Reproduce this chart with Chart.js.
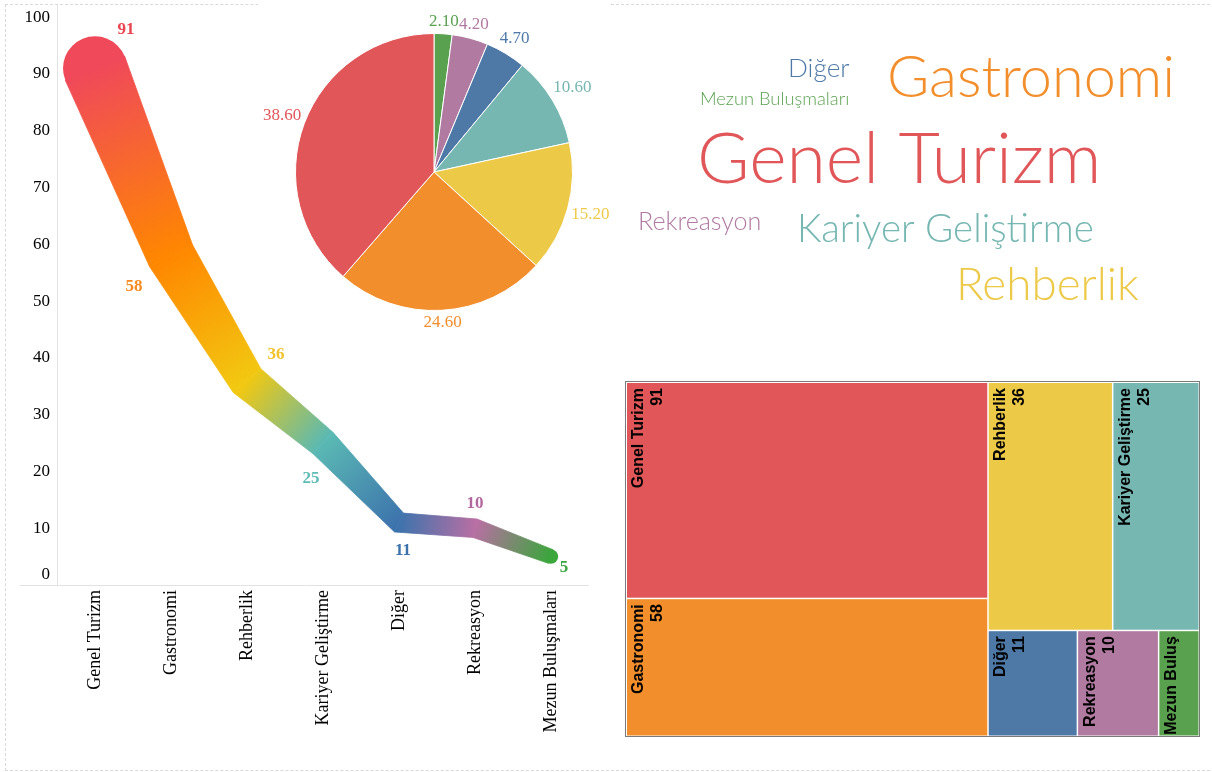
<!DOCTYPE html>
<html>
<head>
<meta charset="utf-8">
<script src="https://cdn.jsdelivr.net/npm/chart.js@4.4.1/dist/chart.umd.min.js"></script>
<style>
	html, body { margin: 0; padding: 0; background: #fff; }
	body { width: 1212px; height: 772px; position: relative; overflow: hidden; }
	.frame { position: absolute; left: 5px; top: 4px; width: 1230px; height: 767px; border: 1px dashed #d9d9d9; box-sizing: border-box; }
	.mask { position: absolute; left: 258px; top: 0; width: 352px; height: 10px; background: #fff; }
	.box { position: absolute; }
	#lineBox { left: 0; top: 0; width: 610px; height: 772px; }
	#pieBox { left: 258px; top: 0; width: 357px; height: 340px; }
	#cloudBox { left: 610px; top: 0; width: 602px; height: 340px; }
	#treeBox { left: 620px; top: 375px; width: 592px; height: 370px; }
</style>
</head>
<body>
<div class="frame"></div>
<div class="mask"></div>
<div class="box" id="lineBox"><canvas id="lineChart"></canvas></div>
<div class="box" id="pieBox"><canvas id="pieChart"></canvas></div>
<div class="box" id="cloudBox"><canvas id="cloudChart"></canvas></div>
<div class="box" id="treeBox"><canvas id="treeChart"></canvas></div>
<script>
// data
const categories = ["Genel Turizm", "Gastronomi", "Rehberlik", "Kariyer Geliştirme", "Diğer", "Rekreasyon", "Mezun Buluşmaları"];
const counts = [91, 58, 36, 25, 11, 10, 5];
const pieShares = [38.6, 24.6, 15.2, 10.6, 4.7, 4.2, 2.1];
const yMax = 100;
const yStep = 10;

// colours
const tabColors = ["#E15759", "#F28E2B", "#EDC948", "#76B7B2", "#4E79A7", "#B07AA1", "#59A14F"];
const lineColors = ["#F0495A", "#FF8700", "#F2C811", "#5AB9B3", "#3D73AD", "#B86FA3", "#3AA63B"];
const lineLabelColors = ["#EA4450", "#F5891E", "#F2C22A", "#5FBBB5", "#3C72AC", "#B2689E", "#3BA53E"];

const serif = '"Liberation Serif", "Times New Roman", serif';

// ---------- tapered gradient line ----------
function lineWidthFor(v) {
	return 8 + 1.9 * Math.pow(v, 0.75);
}
const lineLabelOffsets = [[31, -39], [-37, 31], [29, -26], [-12, 36], [4, 28], [0, -25], [13, 11]];

const taperLine = {
	id: "taperLine",
	beforeDatasetsDraw(chart) {
		const ctx = chart.ctx;
		const a = chart.chartArea;
		ctx.save();
		ctx.strokeStyle = "#e2e2e2";
		ctx.lineWidth = 1;
		ctx.beginPath();
		ctx.moveTo(20, a.bottom + 0.5);
		ctx.lineTo(a.right, a.bottom + 0.5);
		ctx.moveTo(a.left + 0.5, 5);
		ctx.lineTo(a.left + 0.5, a.bottom);
		ctx.stroke();
		// the zero label sits just above the axis line, as in the original
		const ys = chart.scales.y;
		ctx.font = "17px " + serif;
		ctx.fillStyle = "#000";
		ctx.textAlign = "right";
		ctx.textBaseline = "middle";
		ctx.fillText("0", ys.right - 7, ys.getPixelForValue(0) - 10);
		ctx.restore();
	},
	afterDatasetsDraw(chart) {
		const ctx = chart.ctx;
		const pts = chart.getDatasetMeta(0).data.map((p) => ({ x: p.x, y: p.y }));
		const w = counts.map(lineWidthFor);
		const n = pts.length;
		const normals = [];
		for (let i = 0; i < n - 1; i++) {
			const dx = pts[i + 1].x - pts[i].x;
			const dy = pts[i + 1].y - pts[i].y;
			const len = Math.hypot(dx, dy);
			normals.push({ x: -dy / len, y: dx / len });
		}
		const offs = pts.map((p, i) => {
			let nx, ny, k = 1;
			if (i === 0) {
				nx = normals[0].x; ny = normals[0].y;
			} else if (i === n - 1) {
				nx = normals[n - 2].x; ny = normals[n - 2].y;
			} else {
				nx = normals[i - 1].x + normals[i].x;
				ny = normals[i - 1].y + normals[i].y;
				const l = Math.hypot(nx, ny);
				nx /= l; ny /= l;
				k = 1 / (nx * normals[i].x + ny * normals[i].y);
			}
			return { x: (nx * k * w[i]) / 2, y: (ny * k * w[i]) / 2 };
		});

		ctx.save();
		// round ends first so the band sits on top of them
		[0, n - 1].forEach((i) => {
			ctx.fillStyle = lineColors[i];
			ctx.beginPath();
			ctx.arc(pts[i].x, pts[i].y, w[i] / 2, 0, Math.PI * 2);
			ctx.fill();
		});
		for (let i = 0; i < n - 1; i++) {
			const a = pts[i], b = pts[i + 1];
			const g = ctx.createLinearGradient(a.x, a.y, b.x, b.y);
			g.addColorStop(0, lineColors[i]);
			g.addColorStop(1, lineColors[i + 1]);
			ctx.fillStyle = g;
			ctx.strokeStyle = g;
			ctx.lineWidth = 0.8;
			ctx.lineJoin = "round";
			ctx.beginPath();
			ctx.moveTo(a.x + offs[i].x, a.y + offs[i].y);
			ctx.lineTo(b.x + offs[i + 1].x, b.y + offs[i + 1].y);
			ctx.lineTo(b.x - offs[i + 1].x, b.y - offs[i + 1].y);
			ctx.lineTo(a.x - offs[i].x, a.y - offs[i].y);
			ctx.closePath();
			ctx.fill();
			ctx.stroke();
		}
		// value labels
		ctx.font = "bold 17px " + serif;
		ctx.textAlign = "center";
		ctx.textBaseline = "middle";
		pts.forEach((p, i) => {
			ctx.fillStyle = lineLabelColors[i];
			ctx.fillText(String(counts[i]), p.x + lineLabelOffsets[i][0], p.y + lineLabelOffsets[i][1]);
		});
		ctx.restore();
	},
};

new Chart(document.getElementById("lineChart"), {
	type: "line",
	data: {
		labels: categories,
		datasets: [
			{
				data: counts,
				borderWidth: 0,
				borderColor: "rgba(0,0,0,0)",
				pointRadius: 0,
				fill: false,
			},
		],
	},
	options: {
		responsive: true,
		maintainAspectRatio: false,
		animation: false,
		layout: { padding: { top: 13, right: 21, left: 0, bottom: 0 } },
		plugins: {
			legend: { display: false },
			tooltip: { enabled: false },
		},
		scales: {
			x: {
				offset: true,
				grid: { display: false, drawTicks: false },
				border: { display: false },
				ticks: {
					minRotation: 90,
					maxRotation: 90,
					autoSkip: false,
					padding: 5,
					color: "#000",
					font: { family: serif, size: 18 },
				},
				afterFit: (s) => { s.height = 187; },
			},
			y: {
				min: 0,
				max: yMax,
				grid: { display: false, drawTicks: false },
				border: { display: false },
				ticks: {
					stepSize: yStep,
					padding: 7,
					color: (c) => (c.tick && c.tick.value === 0 ? "rgba(0,0,0,0)" : "#000"),
					font: { family: serif, size: 17 },
				},
				afterFit: (s) => { s.width = 57; },
			},
		},
	},
	plugins: [taperLine],
});

// ---------- pie ----------
const pieOrder = categories.map((c, i) => i).reverse();

const pieLabels = {
	id: "pieLabels",
	afterDatasetsDraw(chart) {
		const ctx = chart.ctx;
		const ds = chart.data.datasets[0];
		ctx.save();
		ctx.font = "17px " + serif;
		ctx.textAlign = "center";
		ctx.textBaseline = "middle";
		chart.getDatasetMeta(0).data.forEach((arc, i) => {
			const mid = (arc.startAngle + arc.endAngle) / 2;
			const cx = Math.cos(mid), cy = Math.sin(mid);
			const txt = ds.data[i].toFixed(2);
			const tw = ctx.measureText(txt).width;
			const ext = (Math.abs(cx) * tw) / 2 + Math.abs(cy) * 8;
			const r = arc.outerRadius + 3 + ext;
			ctx.fillStyle = ds.backgroundColor[i];
			ctx.fillText(txt, arc.x + cx * r, arc.y + cy * r);
		});
		ctx.restore();
	},
};

new Chart(document.getElementById("pieChart"), {
	type: "pie",
	data: {
		labels: pieOrder.map((i) => categories[i]),
		datasets: [
			{
				data: pieOrder.map((i) => pieShares[i]),
				backgroundColor: pieOrder.map((i) => tabColors[i]),
				borderColor: "#fff",
				borderWidth: 1,
			},
		],
	},
	options: {
		responsive: true,
		maintainAspectRatio: false,
		animation: false,
		layout: { padding: { left: 36, right: 41, top: 33, bottom: 29 } },
		plugins: {
			legend: { display: false },
			tooltip: { enabled: false },
		},
	},
	plugins: [pieLabels],
});

// ---------- word cloud ----------
const cloudLayout = [[87, 183], [277, 97], [346, 300], [187, 242], [178, 77], [28, 230], [90, 105]];

function wordSize(v) {
	return 7.3 * Math.sqrt(v) + 2;
}

const wordCloud = {
	id: "wordCloud",
	afterDatasetsDraw(chart) {
		const ctx = chart.ctx;
		ctx.save();
		ctx.textAlign = "left";
		ctx.textBaseline = "alphabetic";
		chart.getDatasetMeta(0).data.forEach((p, i) => {
			ctx.font = "300 " + wordSize(counts[i]).toFixed(1) + 'px Lato, "Noto Sans", sans-serif';
			ctx.fillStyle = tabColors[i];
			ctx.fillText(categories[i], p.x, p.y);
		});
		ctx.restore();
	},
};

new Chart(document.getElementById("cloudChart"), {
	type: "scatter",
	data: {
		datasets: [
			{
				data: cloudLayout.map((c) => ({ x: c[0], y: c[1] })),
				pointRadius: 0,
			},
		],
	},
	options: {
		responsive: true,
		maintainAspectRatio: false,
		animation: false,
		layout: { padding: 0 },
		plugins: {
			legend: { display: false },
			tooltip: { enabled: false },
		},
		scales: {
			x: { type: "linear", min: 0, max: 602, display: false },
			y: { type: "linear", min: 0, max: 340, reverse: true, display: false },
		},
	},
	plugins: [wordCloud],
});

// ---------- treemap ----------
const treemapGroups = [[0, 1], [2, 3], [4, 5, 6]];

function sumOf(idx) {
	return idx.reduce((s, i) => s + counts[i], 0);
}

const treemap = {
	id: "treemap",
	afterDatasetsDraw(chart) {
		const xs = chart.scales.x;
		const ys = chart.scales.y;
		const total = counts.reduce((s, v) => s + v, 0);
		const cells = [];
		const first = treemapGroups[0];
		const firstSum = sumOf(first);
		const colW = firstSum / total;
		let cy = 0;
		first.forEach((i) => {
			const h = counts[i] / firstSum;
			cells.push({ i: i, x0: 0, x1: colW, y0: cy, y1: cy + h });
			cy += h;
		});
		const rest = treemapGroups.slice(1);
		const restSum = total - firstSum;
		let ry = 0;
		rest.forEach((g) => {
			const gs = sumOf(g);
			const gh = gs / restSum;
			let rx = colW;
			g.forEach((i) => {
				const wv = (counts[i] / gs) * (1 - colW);
				cells.push({ i: i, x0: rx, x1: rx + wv, y0: ry, y1: ry + gh });
				rx += wv;
			});
			ry += gh;
		});

		const ctx = chart.ctx;
		ctx.save();
		ctx.font = 'bold 16px "Liberation Sans", Arial, sans-serif';
		cells.forEach((c) => {
			const L = xs.getPixelForValue(c.x0);
			const R = xs.getPixelForValue(c.x1);
			const T = ys.getPixelForValue(c.y0);
			const B = ys.getPixelForValue(c.y1);
			ctx.fillStyle = tabColors[c.i];
			ctx.fillRect(L + 1, T + 1, R - L - 1.5, B - T - 1.5);

			let name = categories[c.i];
			const avail = B - T - 5;
			while (name && ctx.measureText(name).width > avail) name = name.slice(0, -1);
			ctx.save();
			ctx.translate(L + 5, T + 6);
			ctx.rotate(-Math.PI / 2);
			ctx.textAlign = "right";
			ctx.textBaseline = "top";
			ctx.fillStyle = "#000";
			ctx.fillText(name.trim(), 0, 0);
			if (R - L >= 44) ctx.fillText(String(counts[c.i]), 0, 19);
			ctx.restore();
		});
		const a = chart.chartArea;
		ctx.strokeStyle = "#7a7a7a";
		ctx.lineWidth = 1;
		ctx.strokeRect(a.left - 0.5, a.top - 0.5, a.right - a.left + 1, a.bottom - a.top + 1);
		ctx.restore();
	},
};

new Chart(document.getElementById("treeChart"), {
	type: "scatter",
	data: { datasets: [{ data: [], pointRadius: 0 }] },
	options: {
		responsive: true,
		maintainAspectRatio: false,
		animation: false,
		layout: { padding: { left: 6, top: 7, right: 13, bottom: 9 } },
		plugins: {
			legend: { display: false },
			tooltip: { enabled: false },
		},
		scales: {
			x: { type: "linear", min: 0, max: 1, display: false },
			y: { type: "linear", min: 0, max: 1, reverse: true, display: false },
		},
	},
	plugins: [treemap],
});
</script>
</body>
</html>
